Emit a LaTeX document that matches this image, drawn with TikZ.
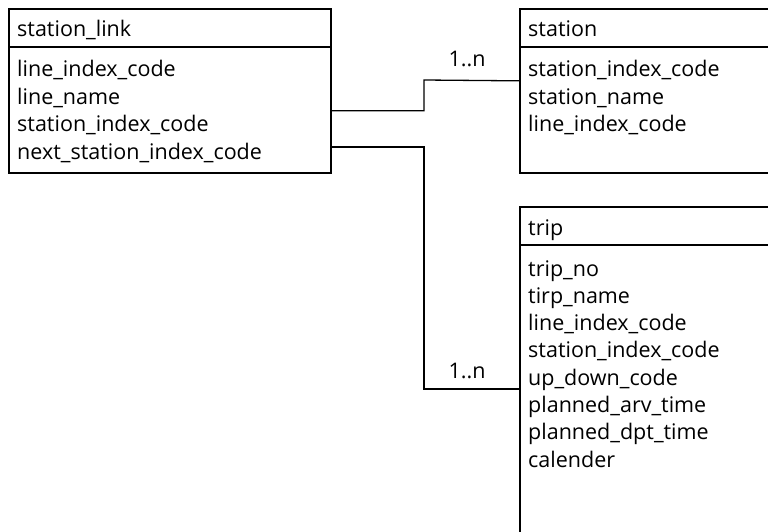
\documentclass[tikz,border=0pt]{standalone}
\usepackage{fontspec}
\setmainfont{Open Sans}
\begin{document}
\begin{tikzpicture}[x=1pt,y=-1pt,
  entity/.style={draw,line width=1.7pt,anchor=north west,inner sep=0pt},
  divider/.style={line width=1.7pt},
  link/.style={line width=1.3pt},
  label/.style={anchor=base west,inner sep=0pt,font=\fontsize{21.5}{26}\selectfont},
  mult/.style={anchor=base,inner sep=0pt,font=\fontsize{21.5}{26}\selectfont}]
\useasboundingbox (0,0) rectangle (768,532);
\begin{scope}
\clip (0,0) rectangle (768,532);
% station_link
\node[entity,minimum width=322pt,minimum height=164pt] (sl) at (8,8) {};
\draw[divider] (8,47) -- (330,47);
\node[label] (slt) at (17,37) {station\_link};
\foreach \t [count=\i] in {line\_index\_code,line\_name,station\_index\_code,next\_station\_index\_code}
  \node[label] (slf\i) at (17,{77+27.4*(\i-1)}) {\t};
% station
\node[entity,minimum width=300pt,minimum height=164pt] (st) at (519,8) {};
\draw[divider] (519,47) -- (819,47);
\node[label] (stt) at (528,37) {station};
\foreach \t [count=\i] in {station\_index\_code,station\_name,line\_index\_code}
  \node[label] (stf\i) at (528,{77+27.4*(\i-1)}) {\t};
% trip
\node[entity,minimum width=300pt,minimum height=400pt] (tr) at (519,206) {};
\draw[divider] (519,245) -- (819,245);
\node[label] (trt) at (528,235) {trip};
\foreach \t [count=\i] in {trip\_no,tirp\_name,line\_index\_code,station\_index\_code,up\_down\_code,planned\_arv\_time,planned\_dpt\_time,calender}
  \node[label] (trf\i) at (528,{276+27.3*(\i-1)}) {\t};
\end{scope}
% relations
\draw[link] ([yshift=-20pt]sl.east) -| (424,80) -- ([yshift=10pt]st.west);
\draw[link] ([yshift=-56pt]sl.east) -| (424,389) -- (tr.west |- 424,389);
\node[mult] (m1) at (467,67) {1..n};
\node[mult] (m2) at (467,378) {1..n};
\end{tikzpicture}
\end{document}
